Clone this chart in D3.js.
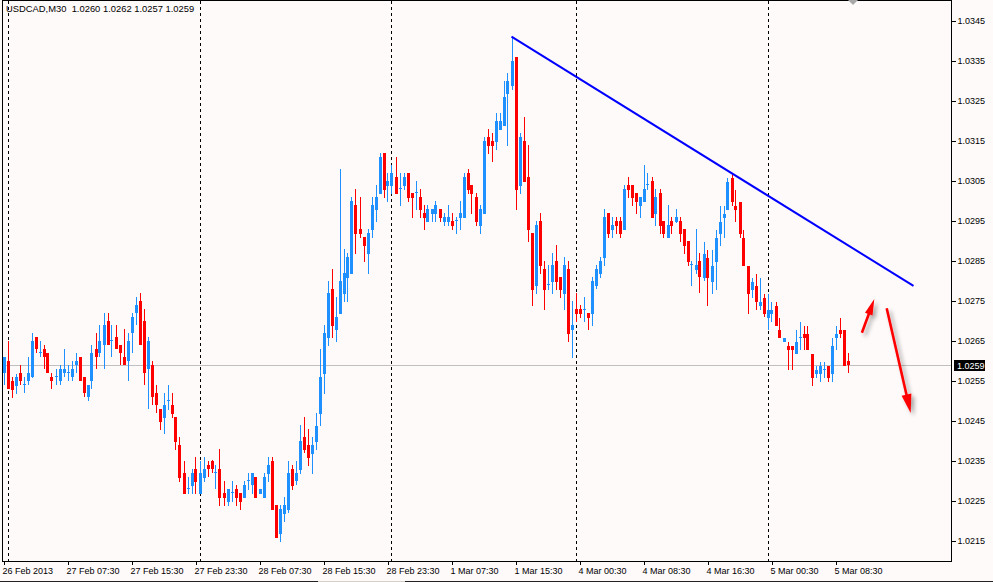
<!DOCTYPE html>
<html><head><meta charset="utf-8">
<script src="https://cdn.jsdelivr.net/npm/d3@7"></script>
<style>
html,body{margin:0;padding:0;background:#FFFAFA;}
svg{display:block;}
text{font-family:"Liberation Sans",Arial,sans-serif;}
</style></head><body>
<svg id="c" width="993" height="582"></svg>
<script>
const symbolTitle = "USDCAD,M30  1.0260 1.0262 1.0257 1.0259";
const lastPrice = 1.0259;

const open = [1.0257,1.026,1.0255,1.02538,1.0257,1.0254,1.0255,1.0256,1.0266,1.0262,1.0263,1.0262,1.0256,1.0256,1.0255,1.0257,1.0257,1.0256,1.0259,1.0261,1.0256,1.0251,1.0255,1.0263,1.0262,1.0264,1.027,1.0265,1.0266,1.0264,1.0261,1.026,1.0267,1.0272,1.0275,1.027,1.0258,1.0259,1.0252,1.0248,1.02458,1.025,1.0249,1.0246,1.0239,1.0232,1.0228,1.02288,1.0233,1.02268,1.02308,1.0234,1.0235,1.0232,1.0233,1.0227,1.02248,1.0227,1.0228,1.0227,1.02258,1.023,1.0229,1.0231,1.02268,1.02258,1.02318,1.0235,1.0224,1.02168,1.02218,1.02228,1.0233,1.023,1.02328,1.0241,1.0239,1.02368,1.02398,1.02468,1.02568,1.02658,1.0278,1.02678,1.02718,1.02768,1.02808,1.02818,1.0299,1.0293,1.0291,1.02868,1.02928,1.02978,1.03018,1.0312,1.03038,1.03038,1.0306,1.0303,1.03038,1.0307,1.0302,1.0302,1.0301,1.0297,1.02948,1.02968,1.02968,1.0298,1.02948,1.02948,1.0295,1.0295,1.02958,1.02958,1.0307,1.0304,1.0301,1.02938,1.02968,1.0316,1.0315,1.03148,1.03178,1.03188,1.03268,1.03288,1.0336,1.03038,1.0315,1.0306,1.0292,1.02788,1.0295,1.0283,1.0279,1.02798,1.0285,1.0281,1.02768,1.0283,1.02678,1.0273,1.0273,1.02728,1.0272,1.02718,1.02788,1.02818,1.02858,1.0297,1.02928,1.0295,1.0295,1.02928,1.0304,1.0304,1.0302,1.02988,1.02998,1.0304,1.0305,1.02968,1.0302,1.0295,1.02908,1.0295,1.02948,1.0295,1.0293,1.029,1.0284,1.02828,1.0285,1.02806,1.02858,1.02798,1.02848,1.02918,1.02958,1.02978,1.03058,1.02988,1.02998,1.02908,1.02838,1.02778,1.02788,1.02738,1.02758,1.02708,1.02718,1.02738,1.02678,1.02648,1.02638,1.02638,1.02618,1.02658,1.02668,1.02668,1.02618,1.02568,1.02568,1.02578,1.02588,1.02568,1.02658,1.02678,1.02678,1.026];

const high = [1.0261,1.0265,1.0256,1.02566,1.0259,1.0256,1.0261,1.0267,1.0266,1.0265,1.0264,1.0262,1.0257,1.0258,1.0259,1.0263,1.0259,1.026,1.0262,1.0261,1.0256,1.0254,1.0264,1.0267,1.0269,1.0272,1.0272,1.0269,1.0269,1.0264,1.0268,1.0267,1.0272,1.0276,1.0277,1.0273,1.0266,1.026,1.0254,1.0248,1.0252,1.0254,1.0252,1.0246,1.0241,1.0235,1.0231,1.0233,1.0236,1.0235,1.0236,1.0235,1.02352,1.0234,1.0238,1.023,1.0228,1.023,1.0229,1.0227,1.023,1.0232,1.0232,1.0231,1.0228,1.0232,1.0236,1.0236,1.0224,1.0224,1.0226,1.0235,1.0234,1.0235,1.0244,1.0246,1.0243,1.0241,1.0247,1.0263,1.0269,1.028,1.0283,1.0276,1.0308,1.0288,1.0287,1.0301,1.0303,1.0301,1.0291,1.0293,1.0301,1.0304,1.0312,1.0312,1.0307,1.0309,1.0311,1.0307,1.0307,1.0307,1.0302,1.0305,1.0303,1.0299,1.0299,1.0298,1.03,1.0298,1.0297,1.0299,1.0297,1.0296,1.03,1.0307,1.0308,1.0304,1.0302,1.0299,1.0316,1.0318,1.0317,1.0322,1.0322,1.033,1.0332,1.0341,1.0336,1.0317,1.0321,1.0314,1.0292,1.0295,1.0297,1.0285,1.0284,1.0287,1.0289,1.0281,1.0286,1.0285,1.0275,1.0277,1.0274,1.0276,1.0272,1.0281,1.0284,1.0286,1.0298,1.0297,1.0296,1.0296,1.0296,1.0304,1.0306,1.0304,1.0302,1.0301,1.0309,1.0307,1.0306,1.0303,1.0303,1.0295,1.0299,1.0296,1.0298,1.0296,1.0293,1.029,1.0285,1.0293,1.0287,1.02898,1.02878,1.02878,1.02928,1.02988,1.02988,1.03058,1.03068,1.03028,1.02998,1.02928,1.02838,1.02808,1.02818,1.02808,1.02768,1.02768,1.02748,1.02748,1.02708,1.02658,1.02648,1.02638,1.02678,1.02698,1.02688,1.02688,1.02618,1.02588,1.02598,1.02598,1.02588,1.02658,1.02688,1.02708,1.02678,1.0262];

const low = [1.0254,1.0253,1.02508,1.02518,1.0254,1.0252,1.0254,1.02558,1.0262,1.0261,1.0258,1.0257,1.0253,1.0254,1.0254,1.0256,1.0255,1.0255,1.0257,1.0255,1.0251,1.025,1.0253,1.0258,1.0261,1.0258,1.0264,1.0261,1.0263,1.0259,1.0259,1.0255,1.0262,1.0269,1.0264,1.0254,1.0248,1.0249,1.0247,1.02428,1.02418,1.02478,1.02458,1.02378,1.02298,1.02268,1.02268,1.02268,1.02268,1.02268,1.02298,1.0231,1.0232,1.0228,1.02238,1.02238,1.02238,1.02248,1.02238,1.02228,1.02258,1.02278,1.02268,1.02258,1.02268,1.02258,1.02298,1.02228,1.02158,1.02148,1.02198,1.0222,1.02278,1.0229,1.02318,1.0237,1.02338,1.02318,1.02378,1.02438,1.02518,1.02638,1.02658,1.02648,1.02718,1.02748,1.02748,1.02818,1.02868,1.02908,1.02848,1.02818,1.02908,1.02948,1.03018,1.03008,1.02998,1.03018,1.03018,1.02988,1.03028,1.02998,1.02958,1.02978,1.02958,1.02928,1.02948,1.02948,1.02948,1.02948,1.02938,1.02938,1.02928,1.02918,1.02928,1.02958,1.03018,1.02968,1.02938,1.02918,1.02968,1.03118,1.03098,1.03128,1.03178,1.03188,1.03138,1.03278,1.02978,1.03018,1.03048,1.02898,1.02738,1.02768,1.02818,1.02728,1.02778,1.02768,1.02778,1.02758,1.02728,1.02648,1.02608,1.02698,1.02708,1.02698,1.02678,1.02688,1.0278,1.02808,1.02838,1.02908,1.02908,1.02918,1.02908,1.02928,1.03008,1.02988,1.02968,1.02958,1.02998,1.03028,1.02958,1.02938,1.02918,1.02908,1.02908,1.02918,1.02945,1.02898,1.02868,1.02838,1.02788,1.02818,1.0277,1.028,1.02738,1.02768,1.02778,1.02888,1.02908,1.02978,1.02988,1.02948,1.02908,1.02838,1.02718,1.02758,1.02728,1.02728,1.0271,1.02678,1.02698,1.02688,1.02658,1.02648,1.02578,1.02578,1.02618,1.02628,1.02628,1.02628,1.02538,1.02558,1.02548,1.02558,1.02548,1.02548,1.02628,1.02658,1.02588,1.0257];

const close = [1.0261,1.0253,1.02528,1.0256,1.0255,1.02541,1.0257,1.0265,1.0263,1.02621,1.0261,1.0257,1.0255,1.02561,1.0258,1.0258,1.02571,1.0258,1.026,1.0255,1.0252,1.0254,1.0262,1.0261,1.0265,1.0269,1.0264,1.02651,1.0263,1.0262,1.0259,1.0265,1.0271,1.0274,1.0264,1.0257,1.0265,1.0251,1.0249,1.02448,1.0249,1.02501,1.02468,1.02398,1.02308,1.02268,1.02281,1.0232,1.02298,1.0232,1.0233,1.0233,1.0233,1.02321,1.02258,1.02258,1.0228,1.02271,1.02258,1.02248,1.0229,1.02301,1.0232,1.02258,1.0228,1.0231,1.0234,1.02228,1.02158,1.0223,1.0224,1.0232,1.02288,1.0232,1.024,1.02378,1.02358,1.0239,1.02436,1.0256,1.0267,1.0277,1.02688,1.0271,1.028,1.0282,1.0286,1.03,1.02918,1.02918,1.02888,1.0292,1.0299,1.0301,1.0311,1.03028,1.0305,1.0307,1.03018,1.03031,1.0306,1.03008,1.03008,1.03021,1.02978,1.02958,1.0298,1.0298,1.0299,1.02958,1.0296,1.0296,1.02938,1.02951,1.0297,1.0306,1.03028,1.03018,1.02948,1.0298,1.0315,1.03138,1.03138,1.032,1.032,1.0326,1.033,1.0335,1.03028,1.0316,1.03048,1.02928,1.02778,1.0294,1.02838,1.02778,1.02791,1.0284,1.02798,1.02778,1.0284,1.02668,1.0269,1.02718,1.02718,1.02729,1.02708,1.028,1.0283,1.0285,1.0296,1.02918,1.0294,1.02938,1.02918,1.0303,1.03028,1.03008,1.02998,1.0301,1.0303,1.03041,1.02958,1.0301,1.02938,1.02918,1.0294,1.02938,1.0296,1.02918,1.02888,1.02848,1.02841,1.0284,1.0281,1.02868,1.02806,1.02838,1.02908,1.02948,1.02968,1.03048,1.02998,1.02978,1.02918,1.02838,1.02768,1.02798,1.02748,1.02748,1.02718,1.02728,1.02728,1.02688,1.02658,1.02658,1.02628,1.02628,1.02648,1.02659,1.02658,1.02628,1.02558,1.02578,1.02588,1.02579,1.02558,1.02638,1.02668,1.02668,1.02588,1.0259];

const priceTicks = [1.0345,1.0335,1.0325,1.0315,1.0305,1.0295,1.0285,1.0275,1.0265,1.0255,1.0245,1.0235,1.0225,1.0215];
const timeTickIndex = [0,16,32,48,64,80,96,112,128,144,160,176,192,208];
const timeTickLabels = ["26 Feb 2013","27 Feb 07:30","27 Feb 15:30","27 Feb 23:30","28 Feb 07:30","28 Feb 15:30","28 Feb 23:30","1 Mar 07:30","1 Mar 15:30","4 Mar 00:30","4 Mar 08:30","4 Mar 16:30","5 Mar 00:30","5 Mar 08:30"];
const daySeparatorIndex = [1,49,97,143,191];

const trendLine = [{i:127, p:1.0341},{i:227.5, p:1.02787}];
const arrowUp = [{i:214.6, p:1.0267},{i:217.7, p:1.02754}];
const arrowDown = [{i:220.8, p:1.02731},{i:226.8, p:1.02469}];

const svg = d3.select("#c");
const L = 2.5, T = 0.5, R = 951.5, B = 561;
const x = d3.scaleLinear().domain([0, 211]).range([3.5, 847.5]);
const y = d3.scaleLinear().domain([1.0215, 1.0345]).range([540.7, 20.7]);

const defs = svg.append("defs");
const f = defs.append("filter").attr("id","sh").attr("x","-50%").attr("y","-50%").attr("width","200%").attr("height","200%");
f.append("feDropShadow").attr("dx",3).attr("dy",3).attr("stdDeviation",2.2).attr("flood-color","#000").attr("flood-opacity",0.35);
defs.append("clipPath").attr("id","plot").append("rect").attr("x",L).attr("y",T).attr("width",R-L).attr("height",B-T);

const g = svg.append("g").attr("clip-path","url(#plot)");

// day separators
g.selectAll("line.sep").data(daySeparatorIndex).join("line")
  .attr("x1", d => Math.round(x(d)) + 0.5).attr("x2", d => Math.round(x(d)) + 0.5)
  .attr("y1", T).attr("y2", B)
  .attr("stroke", "#000").attr("stroke-width", 1).attr("stroke-dasharray", "3,3")
  .attr("shape-rendering","crispEdges");

// current price line
g.append("line").attr("x1", L).attr("x2", R).attr("y1", Math.round(y(lastPrice))+0.5).attr("y2", Math.round(y(lastPrice))+0.5)
  .attr("stroke", "#C0C0C0").attr("shape-rendering","crispEdges");

const data = open.map((o, i) => ({i, o, h: high[i], l: low[i], c: close[i]}));
const col = d => d.c >= d.o ? "#1E90FF" : "#FF0000";
const cg = g.append("g").attr("shape-rendering","crispEdges");
cg.selectAll("line.w").data(data).join("line")
  .attr("x1", d => Math.round(x(d.i)) + 0.5).attr("x2", d => Math.round(x(d.i)) + 0.5)
  .attr("y1", d => y(d.h)).attr("y2", d => y(d.l))
  .attr("stroke", col).attr("stroke-width", 1);
cg.selectAll("rect.b").data(data).join("rect")
  .attr("x", d => Math.round(x(d.i)) - 1).attr("width", 3)
  .attr("y", d => Math.min(y(d.o), y(d.c)))
  .attr("height", d => Math.max(1, Math.abs(y(d.o) - y(d.c))))
  .attr("fill", col);

// trend line
g.append("line")
  .attr("x1", x(trendLine[0].i)).attr("y1", y(trendLine[0].p))
  .attr("x2", x(trendLine[1].i)).attr("y2", y(trendLine[1].p))
  .attr("stroke", "#0000FF").attr("stroke-width", 2);

// arrows
function arrow(a, headLen, headW) {
  const x1 = x(a[0].i), y1 = y(a[0].p), x2 = x(a[1].i), y2 = y(a[1].p);
  const dx = x2 - x1, dy = y2 - y1, len = Math.hypot(dx, dy);
  const ux = dx/len, uy = dy/len, px = -uy, py = ux;
  const bx = x2 - ux*headLen, by = y2 - uy*headLen;
  const ag = g.append("g").attr("filter","url(#sh)");
  ag.append("line").attr("x1", x1).attr("y1", y1).attr("x2", bx + ux*2).attr("y2", by + uy*2)
    .attr("stroke", "#FF0000").attr("stroke-width", 2.6);
  ag.append("path").attr("d", `M${x2},${y2}L${bx+px*headW/2},${by+py*headW/2}L${bx-px*headW/2},${by-py*headW/2}Z`)
    .attr("fill", "#FF0000");
}
arrow(arrowUp, 16, 8);
arrow(arrowDown, 19, 10);

// frame
svg.append("rect").attr("x", L).attr("y", T).attr("width", R-L).attr("height", B-T)
  .attr("fill","none").attr("stroke","#000").attr("stroke-width",1).attr("shape-rendering","crispEdges");

// top chart-shift marker
svg.append("path").attr("d","M848,0L858,0L853,5Z").attr("fill","#A8A8A8");

// right price axis
const ya = svg.append("g").attr("transform", `translate(${R},0)`)
  .call(d3.axisRight(y).tickValues(priceTicks).tickFormat(d3.format(".4f")).tickSizeInner(4).tickSizeOuter(0).tickPadding(2));
ya.select(".domain").remove();
ya.selectAll("line").attr("stroke","#000").attr("shape-rendering","crispEdges");
ya.selectAll("text").attr("fill","#000").style("font-size","9px").style("font-family",'"Liberation Sans",Arial,sans-serif');

// bottom time axis
const xa = svg.append("g").attr("transform", `translate(0,${B})`)
  .call(d3.axisBottom(x).tickValues(timeTickIndex).tickFormat((d, k) => timeTickLabels[k]).tickSizeInner(4).tickSizeOuter(0).tickPadding(3));
xa.select(".domain").remove();
xa.selectAll("line").attr("stroke","#000").attr("shape-rendering","crispEdges").attr("transform","translate(0.5,0)");
xa.selectAll("text").attr("fill","#000").attr("text-anchor","start").attr("dx", -1.5)
  .style("font-size","9px").style("font-family",'"Liberation Sans",Arial,sans-serif');

// current price tag
const ty = Math.round(y(lastPrice));
svg.append("rect").attr("x", 954).attr("y", ty - 5).attr("width", 31).attr("height", 11).attr("fill","#000");
svg.append("text").attr("x", 957).attr("y", ty + 3.5).attr("fill","#fff").style("font-size","9px").text(d3.format(".4f")(lastPrice));

// title
svg.append("text").attr("x", 6).attr("y", 12).attr("fill","#000").style("font-size","9.4px").attr("xml:space","preserve").style("white-space","pre").text(symbolTitle);

// bottom window edge
svg.append("line").attr("x1",0).attr("x2",318).attr("y1",581.5).attr("y2",581.5).attr("stroke","#222");
svg.append("line").attr("x1",318).attr("x2",405).attr("y1",581.5).attr("y2",581.5).attr("stroke","#D4D0C8");
svg.append("line").attr("x1",405).attr("x2",993).attr("y1",581.5).attr("y2",581.5).attr("stroke","#222");
</script>
</body></html>
